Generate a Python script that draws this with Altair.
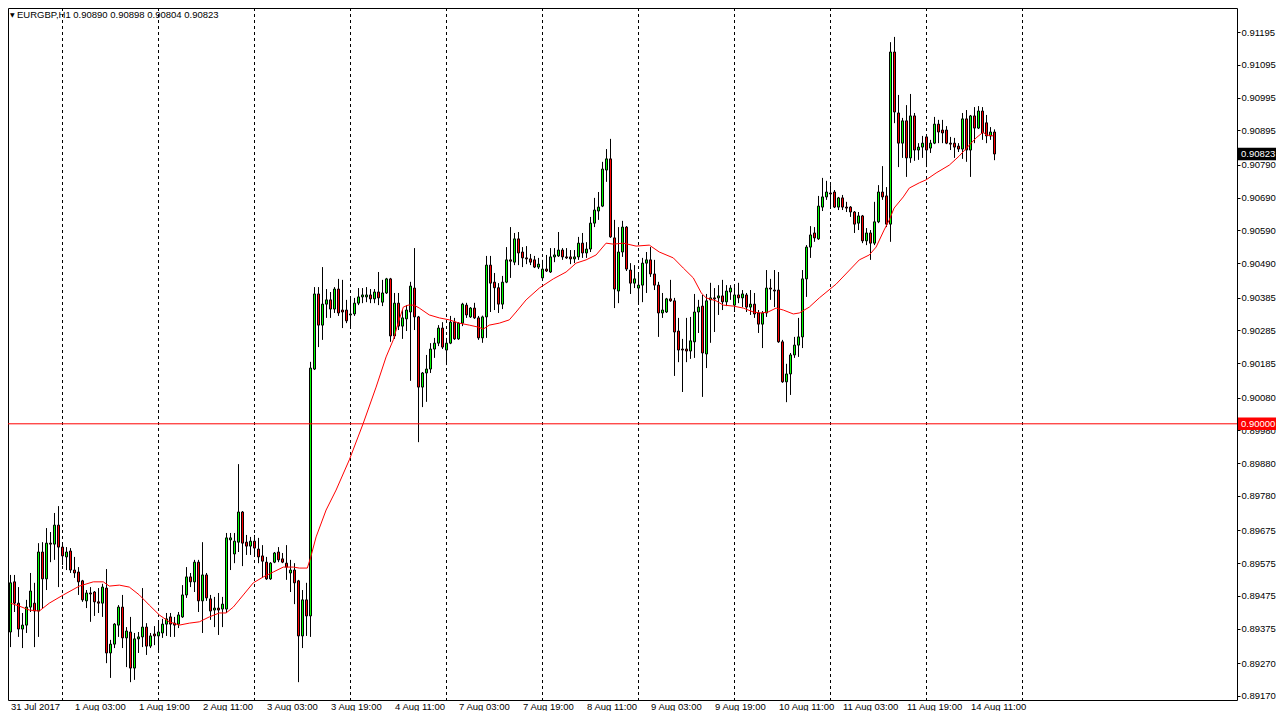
import altair as alt
import pandas as pd

# ---------------- data ----------------
opens = [
    0.89365, 0.89518, 0.89453, 0.89374, 0.89386, 0.89441, 0.89453, 0.89429, 0.89609, 0.89527,
    0.89636, 0.89633, 0.89691, 0.89624, 0.89594, 0.89612, 0.89554, 0.89548, 0.89521, 0.89460,
    0.89484, 0.89487, 0.89457, 0.89453, 0.89499, 0.89301, 0.89328, 0.89386, 0.89441, 0.89347,
    0.89365, 0.89255, 0.89344, 0.89350, 0.89380, 0.89322, 0.89359, 0.89353, 0.89362, 0.89389,
    0.89411, 0.89392, 0.89389, 0.89411, 0.89478, 0.89533, 0.89518, 0.89578, 0.89460, 0.89539,
    0.89466, 0.89432, 0.89438, 0.89435, 0.89435, 0.89646, 0.89603, 0.89639, 0.89731, 0.89639,
    0.89627, 0.89642, 0.89618, 0.89597, 0.89578, 0.89527, 0.89578, 0.89609, 0.89588, 0.89575,
    0.89545, 0.89554, 0.89521, 0.89353, 0.89463, 0.89414, 0.90167, 0.90396, 0.90301, 0.90365,
    0.90378, 0.90350, 0.90411, 0.90347, 0.90347, 0.90332, 0.90335, 0.90368, 0.90387, 0.90387,
    0.90393, 0.90381, 0.90402, 0.90371, 0.90399, 0.90442, 0.90268, 0.90368, 0.90298, 0.90320,
    0.90341, 0.90414, 0.90326, 0.90112, 0.90155, 0.90167, 0.90228, 0.90246, 0.90292, 0.90225,
    0.90246, 0.90310, 0.90259, 0.90307, 0.90362, 0.90326, 0.90353, 0.90323, 0.90262, 0.90326,
    0.90484, 0.90432, 0.90415, 0.90365, 0.90432, 0.90500, 0.90493, 0.90564, 0.90524, 0.90506,
    0.90503, 0.90500, 0.90478, 0.90445, 0.90472, 0.90463, 0.90509, 0.90512, 0.90530, 0.90509,
    0.90509, 0.90503, 0.90509, 0.90551, 0.90521, 0.90533, 0.90612, 0.90649, 0.90664, 0.90774,
    0.90808, 0.90567, 0.90405, 0.90524, 0.90600, 0.90469, 0.90429, 0.90414, 0.90423, 0.90490,
    0.90500, 0.90457, 0.90423, 0.90338, 0.90341, 0.90381, 0.90375, 0.90283, 0.90228, 0.90228,
    0.90222, 0.90250, 0.90341, 0.90359, 0.90213, 0.90378, 0.90384, 0.90384, 0.90390, 0.90372,
    0.90402, 0.90362, 0.90393, 0.90384, 0.90393, 0.90356, 0.90365, 0.90338, 0.90304, 0.90338,
    0.90414, 0.90408, 0.90408, 0.90250, 0.90128, 0.90152, 0.90210, 0.90240, 0.90265, 0.90442,
    0.90539, 0.90582, 0.90564, 0.90661, 0.90692, 0.90704, 0.90707, 0.90661, 0.90689, 0.90661,
    0.90661, 0.90646, 0.90612, 0.90634, 0.90558, 0.90582, 0.90551, 0.90616, 0.90707, 0.90695,
    0.90609, 0.91134, 0.90948, 0.90856, 0.90924, 0.90811, 0.90939, 0.90835, 0.90844, 0.90875,
    0.90841, 0.90856, 0.90914, 0.90896, 0.90896, 0.90856, 0.90856, 0.90847, 0.90838, 0.90930,
    0.90835, 0.90939, 0.90902, 0.90954, 0.90918, 0.90878, 0.90890,
]
highs = [
    0.89539, 0.89539, 0.89502, 0.89423, 0.89463, 0.89545, 0.89515, 0.89636, 0.89639, 0.89682,
    0.89670, 0.89728, 0.89749, 0.89636, 0.89624, 0.89621, 0.89594, 0.89563, 0.89524, 0.89493,
    0.89502, 0.89490, 0.89499, 0.89512, 0.89557, 0.89341, 0.89392, 0.89447, 0.89478, 0.89380,
    0.89411, 0.89362, 0.89365, 0.89499, 0.89392, 0.89362, 0.89383, 0.89396, 0.89405, 0.89423,
    0.89423, 0.89411, 0.89426, 0.89508, 0.89563, 0.89545, 0.89585, 0.89585, 0.89639, 0.89545,
    0.89478, 0.89472, 0.89484, 0.89472, 0.89667, 0.89667, 0.89667, 0.89877, 0.89734, 0.89661,
    0.89655, 0.89661, 0.89652, 0.89630, 0.89594, 0.89578, 0.89609, 0.89624, 0.89606, 0.89630,
    0.89585, 0.89575, 0.89524, 0.89493, 0.89515, 0.90189, 0.90417, 0.90417, 0.90478, 0.90411,
    0.90402, 0.90417, 0.90442, 0.90439, 0.90378, 0.90381, 0.90384, 0.90414, 0.90414, 0.90417,
    0.90411, 0.90411, 0.90463, 0.90439, 0.90445, 0.90445, 0.90399, 0.90399, 0.90347, 0.90362,
    0.90433, 0.90536, 0.90329, 0.90158, 0.90210, 0.90246, 0.90262, 0.90301, 0.90310, 0.90262,
    0.90329, 0.90323, 0.90310, 0.90369, 0.90369, 0.90356, 0.90369, 0.90329, 0.90330, 0.90512,
    0.90512, 0.90460, 0.90429, 0.90451, 0.90539, 0.90600, 0.90582, 0.90585, 0.90539, 0.90542,
    0.90518, 0.90512, 0.90506, 0.90500, 0.90515, 0.90536, 0.90536, 0.90585, 0.90536, 0.90536,
    0.90530, 0.90530, 0.90570, 0.90582, 0.90554, 0.90631, 0.90689, 0.90707, 0.90799, 0.90838,
    0.90869, 0.90622, 0.90600, 0.90619, 0.90603, 0.90490, 0.90484, 0.90454, 0.90506, 0.90524,
    0.90539, 0.90500, 0.90433, 0.90399, 0.90384, 0.90439, 0.90384, 0.90323, 0.90259, 0.90323,
    0.90326, 0.90396, 0.90378, 0.90393, 0.90396, 0.90430, 0.90414, 0.90423, 0.90439, 0.90423,
    0.90423, 0.90417, 0.90430, 0.90408, 0.90399, 0.90408, 0.90399, 0.90347, 0.90344, 0.90469,
    0.90442, 0.90469, 0.90463, 0.90256, 0.90183, 0.90216, 0.90265, 0.90323, 0.90469, 0.90545,
    0.90603, 0.90600, 0.90695, 0.90750, 0.90741, 0.90728, 0.90713, 0.90692, 0.90698, 0.90677,
    0.90664, 0.90649, 0.90646, 0.90637, 0.90597, 0.90591, 0.90677, 0.90728, 0.90786, 0.90722,
    0.91164, 0.91180, 0.91003, 0.90933, 0.90972, 0.91006, 0.90948, 0.90856, 0.90878, 0.90878,
    0.90866, 0.90936, 0.90927, 0.90927, 0.90908, 0.90875, 0.90872, 0.90856, 0.90948, 0.90957,
    0.90942, 0.90966, 0.90969, 0.90966, 0.90942, 0.90905, 0.90898,
]
lows = [
    0.89319, 0.89426, 0.89350, 0.89316, 0.89362, 0.89426, 0.89319, 0.89350, 0.89438, 0.89493,
    0.89578, 0.89585, 0.89502, 0.89569, 0.89554, 0.89545, 0.89530, 0.89478, 0.89457, 0.89438,
    0.89396, 0.89414, 0.89423, 0.89411, 0.89270, 0.89225, 0.89316, 0.89350, 0.89316, 0.89258,
    0.89212, 0.89219, 0.89301, 0.89319, 0.89295, 0.89316, 0.89325, 0.89301, 0.89347, 0.89353,
    0.89350, 0.89350, 0.89377, 0.89408, 0.89469, 0.89502, 0.89487, 0.89426, 0.89362, 0.89460,
    0.89402, 0.89380, 0.89356, 0.89380, 0.89423, 0.89554, 0.89575, 0.89609, 0.89566, 0.89600,
    0.89600, 0.89594, 0.89575, 0.89530, 0.89524, 0.89524, 0.89575, 0.89578, 0.89575, 0.89524,
    0.89487, 0.89450, 0.89212, 0.89316, 0.89353, 0.89350, 0.90164, 0.90234, 0.90256, 0.90323,
    0.90323, 0.90338, 0.90329, 0.90292, 0.90307, 0.90292, 0.90329, 0.90362, 0.90368, 0.90371,
    0.90368, 0.90368, 0.90362, 0.90359, 0.90396, 0.90250, 0.90259, 0.90286, 0.90259, 0.90283,
    0.90131, 0.90286, 0.89944, 0.90051, 0.90067, 0.90155, 0.90201, 0.90237, 0.90228, 0.90179,
    0.90243, 0.90256, 0.90256, 0.90298, 0.90323, 0.90323, 0.90320, 0.90256, 0.90247, 0.90262,
    0.90341, 0.90347, 0.90338, 0.90350, 0.90429, 0.90445, 0.90484, 0.90484, 0.90478, 0.90487,
    0.90484, 0.90475, 0.90472, 0.90442, 0.90463, 0.90460, 0.90493, 0.90509, 0.90500, 0.90503,
    0.90487, 0.90490, 0.90500, 0.90506, 0.90506, 0.90524, 0.90600, 0.90622, 0.90661, 0.90738,
    0.90567, 0.90353, 0.90368, 0.90509, 0.90466, 0.90396, 0.90414, 0.90371, 0.90371, 0.90399,
    0.90448, 0.90408, 0.90265, 0.90323, 0.90338, 0.90372, 0.90146, 0.90188, 0.90097, 0.90188,
    0.90198, 0.90201, 0.90277, 0.90082, 0.90170, 0.90247, 0.90280, 0.90332, 0.90347, 0.90359,
    0.90378, 0.90341, 0.90368, 0.90356, 0.90341, 0.90332, 0.90323, 0.90277, 0.90231, 0.90326,
    0.90378, 0.90356, 0.90247, 0.90125, 0.90066, 0.90088, 0.90201, 0.90204, 0.90231, 0.90387,
    0.90506, 0.90555, 0.90561, 0.90649, 0.90683, 0.90658, 0.90658, 0.90652, 0.90652, 0.90646,
    0.90631, 0.90582, 0.90591, 0.90551, 0.90545, 0.90500, 0.90545, 0.90612, 0.90683, 0.90600,
    0.90555, 0.90917, 0.90783, 0.90811, 0.90753, 0.90796, 0.90802, 0.90805, 0.90811, 0.90783,
    0.90826, 0.90853, 0.90856, 0.90856, 0.90853, 0.90835, 0.90811, 0.90829, 0.90808, 0.90799,
    0.90753, 0.90856, 0.90899, 0.90866, 0.90856, 0.90866, 0.90804,
]
closes = [
    0.89515, 0.89453, 0.89374, 0.89386, 0.89441, 0.89490, 0.89429, 0.89609, 0.89527, 0.89636,
    0.89633, 0.89691, 0.89624, 0.89597, 0.89609, 0.89554, 0.89545, 0.89518, 0.89463, 0.89484,
    0.89481, 0.89457, 0.89453, 0.89502, 0.89301, 0.89328, 0.89389, 0.89441, 0.89347, 0.89368,
    0.89255, 0.89344, 0.89350, 0.89380, 0.89322, 0.89353, 0.89353, 0.89365, 0.89389, 0.89405,
    0.89389, 0.89386, 0.89417, 0.89478, 0.89533, 0.89518, 0.89578, 0.89460, 0.89539, 0.89469,
    0.89429, 0.89438, 0.89432, 0.89450, 0.89652, 0.89652, 0.89642, 0.89731, 0.89636, 0.89627,
    0.89642, 0.89621, 0.89594, 0.89581, 0.89527, 0.89575, 0.89606, 0.89585, 0.89578, 0.89563,
    0.89554, 0.89515, 0.89353, 0.89463, 0.89414, 0.90170, 0.90396, 0.90301, 0.90365, 0.90378,
    0.90350, 0.90411, 0.90338, 0.90341, 0.90314, 0.90335, 0.90368, 0.90387, 0.90393, 0.90393,
    0.90381, 0.90402, 0.90384, 0.90399, 0.90442, 0.90268, 0.90368, 0.90298, 0.90323, 0.90347,
    0.90420, 0.90326, 0.90112, 0.90155, 0.90167, 0.90228, 0.90246, 0.90292, 0.90234, 0.90246,
    0.90310, 0.90259, 0.90307, 0.90365, 0.90332, 0.90353, 0.90323, 0.90262, 0.90326, 0.90484,
    0.90429, 0.90415, 0.90365, 0.90432, 0.90500, 0.90496, 0.90564, 0.90521, 0.90506, 0.90503,
    0.90493, 0.90478, 0.90487, 0.90472, 0.90466, 0.90509, 0.90515, 0.90530, 0.90509, 0.90506,
    0.90503, 0.90509, 0.90551, 0.90521, 0.90533, 0.90612, 0.90652, 0.90661, 0.90777, 0.90808,
    0.90570, 0.90411, 0.90524, 0.90600, 0.90472, 0.90429, 0.90442, 0.90423, 0.90490, 0.90500,
    0.90457, 0.90423, 0.90338, 0.90347, 0.90381, 0.90375, 0.90280, 0.90225, 0.90225, 0.90222,
    0.90253, 0.90341, 0.90356, 0.90216, 0.90375, 0.90384, 0.90381, 0.90390, 0.90372, 0.90405,
    0.90414, 0.90393, 0.90384, 0.90396, 0.90356, 0.90365, 0.90335, 0.90304, 0.90338, 0.90414,
    0.90411, 0.90405, 0.90250, 0.90128, 0.90152, 0.90210, 0.90240, 0.90265, 0.90442, 0.90539,
    0.90576, 0.90567, 0.90664, 0.90692, 0.90707, 0.90701, 0.90661, 0.90689, 0.90661, 0.90658,
    0.90646, 0.90609, 0.90634, 0.90558, 0.90582, 0.90551, 0.90616, 0.90707, 0.90692, 0.90609,
    0.91134, 0.90951, 0.90856, 0.90924, 0.90811, 0.90939, 0.90835, 0.90844, 0.90856, 0.90835,
    0.90856, 0.90914, 0.90890, 0.90887, 0.90856, 0.90853, 0.90844, 0.90838, 0.90930, 0.90835,
    0.90939, 0.90902, 0.90954, 0.90887, 0.90878, 0.90890, 0.90823,
]

# moving average: (bar position, price)
ma_idx = [
    0, 2.2, 4.7, 7.2, 9.7, 13.2, 17.2, 20.7, 23.2, 24.7,
    27.2, 29.7, 32.2, 34.7, 37.2, 39.7, 42.2, 44.7, 47.2, 49.7,
    52.2, 53.9, 55.7, 58.2, 60.7, 63.2, 65.7, 68.2, 70.7, 72.2,
    74.2, 75.0, 76.4, 78.9, 81.4, 84.7, 88.2, 91.4, 93.9, 95.7,
    96.9, 98.2, 99.4, 100.9, 102.2, 104.7, 107.2, 109.7, 112.2, 114.7,
    116.9, 118.2, 119.7, 122.2, 124.7, 126.4, 128.9, 132.2, 135.7, 138.9,
    141.4, 143.9, 146.4, 148.9, 150.7, 153.2, 156.4, 159.7, 162.2, 165.7,
    168.2, 170.7, 172.7, 173.9, 176.4, 178.2, 180.7, 183.2, 185.7, 187.7,
    189.4, 191.4, 193.2, 195.7, 197.2, 199.7, 202.2, 206.4, 212.2, 214.7,
    216.4, 218.4, 219.7, 220.9, 223.2, 224.7, 227.2, 228.9, 231.4, 234.7,
    237.2, 239.7, 241.4, 243.2, 243.9, 245.7,
]
ma_val = [
    0.89453, 0.89444, 0.89432, 0.89429, 0.89453, 0.89478, 0.89505, 0.89518, 0.89518, 0.89505,
    0.89508, 0.89502, 0.89478, 0.89447, 0.89417, 0.89396, 0.89386, 0.89392, 0.89396, 0.89411,
    0.89423, 0.89423, 0.89441, 0.89478, 0.89515, 0.89533, 0.89548, 0.89563, 0.89563, 0.89560,
    0.89560, 0.89591, 0.89655, 0.89737, 0.89798, 0.89890, 0.90002, 0.90112, 0.90204, 0.90256,
    0.90307, 0.90356, 0.90362, 0.90362, 0.90353, 0.90332, 0.90323, 0.90317, 0.90307, 0.90301,
    0.90295, 0.90289, 0.90301, 0.90307, 0.90317, 0.90341, 0.90378, 0.90414, 0.90442, 0.90463,
    0.90490, 0.90500, 0.90515, 0.90551, 0.90548, 0.90551, 0.90542, 0.90545, 0.90524, 0.90506,
    0.90475, 0.90445, 0.90399, 0.90384, 0.90375, 0.90362, 0.90359, 0.90353, 0.90341, 0.90338,
    0.90341, 0.90353, 0.90347, 0.90335, 0.90338, 0.90356, 0.90384, 0.90426, 0.90500, 0.90515,
    0.90539, 0.90591, 0.90622, 0.90658, 0.90692, 0.90719, 0.90735, 0.90744, 0.90765, 0.90789,
    0.90817, 0.90850, 0.90872, 0.90890, 0.90881, 0.90878,
]

separator_idx = [13, 37, 61, 85, 109, 133, 157, 181, 205, 229, 253]
label_idx = [0, 16, 32, 48, 64, 80, 96, 112, 128, 144, 160, 176, 192, 208, 224, 240]
label_text = [
    "31 Jul 2017", "1 Aug 03:00", "1 Aug 19:00", "2 Aug 11:00", "3 Aug 03:00",
    "3 Aug 19:00", "4 Aug 11:00", "7 Aug 03:00", "7 Aug 19:00", "8 Aug 11:00",
    "9 Aug 03:00", "9 Aug 19:00", "10 Aug 11:00", "11 Aug 03:00", "11 Aug 19:00",
    "14 Aug 11:00",
]
ytick_vals = [
    0.91195, 0.91095, 0.90995, 0.90895, 0.90790, 0.90690, 0.90590, 0.90490, 0.90385,
    0.90285, 0.90185, 0.90080, 0.89980, 0.89880, 0.89780, 0.89675, 0.89575, 0.89475,
    0.89375, 0.89270, 0.89170,
]
tag_price = [0.90823, 0.90000]
tag_text = ["0.90823", "0.90000"]
tag_color = ["#000000", "#ff0000"]
hline_price = [0.90000]
header_symbol = "EURGBP,H1"
header_ohlc = "0.90890 0.90898 0.90804 0.90823"

# ---------------- chart ----------------
W, H = 1229, 692          # plot area
PAD_R, PAD_B = 39, 11     # room for price axis and time labels
FONT = "Liberation Sans"
FS = 9.5
UP, DOWN = "#00ff00", "#ff0000"

n = min(len(opens), len(highs), len(lows), len(closes))
candles = pd.DataFrame({
    "idx": list(range(n)),
    "open": opens[:n], "high": highs[:n], "low": lows[:n], "close": closes[:n],
})
candles["dir"] = ["up" if c >= o else "down" for o, c in zip(candles["open"], candles["close"])]

m = min(len(ma_idx), len(ma_val))
ma_df = pd.DataFrame({"idx": ma_idx[:m], "ma": ma_val[:m]})

# 4 px per bar, no range padding
xscale = alt.Scale(domain=[-0.625, -0.625 + W / 4.0], nice=False, zero=False, padding=0)
yscale = alt.Scale(domain=[0.891576, 0.912682], nice=False, zero=False, padding=0)

label_expr = (
    "[" + ",".join("'" + t + "'" for t in label_text) + "]"
    + "[indexof([" + ",".join(str(v) for v in label_idx) + "], datum.value)]"
)
xaxis = alt.Axis(
    values=label_idx, labelExpr=label_expr, labelAlign="left", labelBaseline="top",
    labelPadding=1, ticks=False, domain=False, grid=False, title=None,
    labelFont=FONT, labelFontSize=FS, labelColor="black",
    labelOverlap=False, labelFlush=False, labelBound=False,
)
yaxis = alt.Axis(
    orient="right", values=ytick_vals, format=".5f", tickSize=3, tickColor="black",
    labelPadding=1, domain=False, grid=False, title=None,
    labelFont=FONT, labelFontSize=FS, labelColor="black",
    labelOverlap=False, labelFlush=False, labelBound=False,
)


def X(field):
    return alt.X(f"{field}:Q", scale=xscale, axis=xaxis)


def Y(field):
    return alt.Y(f"{field}:Q", scale=yscale, axis=yaxis)


separators = alt.Chart(pd.DataFrame({"idx": separator_idx})).mark_rule(
    color="black", strokeWidth=1, strokeDash=[3, 3]
).encode(x=X("idx"))

wicks = alt.Chart(candles).mark_rule(color="black", strokeWidth=1).encode(
    x=X("idx"), y=Y("low"), y2="high"
)

bodies = alt.Chart(candles).mark_bar(size=2, stroke="black", strokeWidth=1).encode(
    x=X("idx"), y=Y("open"), y2="close",
    fill=alt.Fill("dir:N", scale=alt.Scale(domain=["up", "down"], range=[UP, DOWN]), legend=None),
)

ma_line = alt.Chart(ma_df).mark_line(color="#ff0000", strokeWidth=1).encode(
    x=X("idx"), y=Y("ma")
)

hline = alt.Chart(pd.DataFrame({"p": hline_price})).mark_rule(
    color="#ff0000", strokeWidth=1
).encode(y=Y("p"))

tags_df = pd.DataFrame({"p": tag_price, "label": tag_text, "bg": tag_color})
tag_boxes = alt.Chart(tags_df).transform_calculate(
    top="datum.p + 0.00019", bot="datum.p - 0.00019"
).mark_rect().encode(
    y=Y("top"), y2="bot", x=alt.value(W + 1), x2=alt.value(W + PAD_R),
    fill=alt.Fill("bg:N", scale=None),
)
tag_texts = alt.Chart(tags_df).mark_text(
    align="left", baseline="middle", color="white", font=FONT, fontSize=FS
).encode(x=alt.value(W + 4), y=Y("p"), text="label:N")

header_tri = alt.Chart(pd.DataFrame({"t": ["\u25bc"]})).mark_text(
    align="left", baseline="middle", font="DejaVu Sans", fontSize=6, color="black"
).encode(x=alt.value(2), y=alt.value(7), text="t:N")
header = alt.Chart(pd.DataFrame({"t": [header_symbol + "  " + header_ohlc]})).mark_text(
    align="left", baseline="middle", font=FONT, fontSize=FS, color="black"
).encode(x=alt.value(9), y=alt.value(7), text="t:N")

chart = alt.layer(
    separators, wicks, bodies, ma_line, hline, tag_boxes, tag_texts, header_tri, header
).properties(
    width=W, height=H,
    padding={"left": 0, "top": 0, "right": PAD_R, "bottom": PAD_B},
    autosize=alt.AutoSizeParams(type="none"),
    background="white",
).configure_view(stroke="black", strokeWidth=1)

chart.save("out.html", embed_options={"renderer": "svg", "actions": False})
